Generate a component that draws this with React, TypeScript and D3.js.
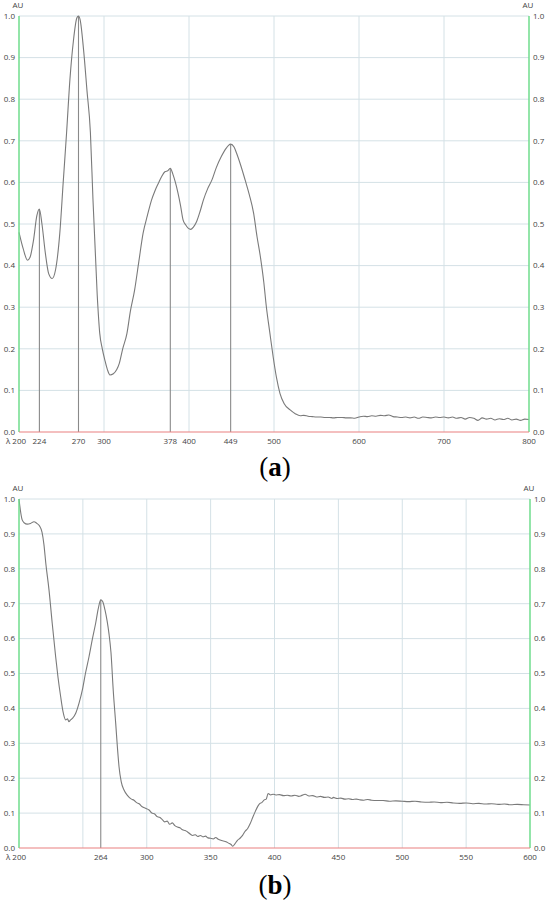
import React from "react";
import * as d3 from "d3";

// ---------- Data: panel (a) ----------
const waveA = [200, 205, 210, 213, 217, 221, 224, 227, 231, 235, 239, 243, 248, 252, 256, 260, 264, 268, 270, 272, 276, 280, 284, 287, 292, 295, 298, 301, 304, 307, 311, 315, 318, 322, 327, 331, 336, 341, 346, 351, 356, 360, 364, 368, 372, 375, 378, 381, 384, 387, 390, 393, 396, 399, 402, 405, 409, 413, 417, 422, 427, 432, 438, 443, 449, 453, 456, 461, 466, 471, 476, 480, 484, 488, 491, 495, 499, 503, 507, 512, 519, 525, 531, 535, 540, 545, 550, 555, 560, 565, 570, 575, 580, 585, 590, 595, 600, 605, 610, 615, 620, 625, 630, 635, 640, 645, 650, 655, 660, 665, 670, 675, 680, 685, 690, 695, 700, 705, 710, 715, 720, 725, 730, 735, 740, 745, 750, 755, 760, 765, 770, 775, 780, 785, 790, 795, 800];
const absA = [0.48, 0.44, 0.413, 0.42, 0.46, 0.52, 0.536, 0.5, 0.43, 0.38, 0.369, 0.39, 0.478, 0.6, 0.72, 0.85, 0.94, 0.995, 1.0, 0.99, 0.918, 0.82, 0.72, 0.56, 0.33, 0.237, 0.2, 0.173, 0.15, 0.137, 0.14, 0.15, 0.165, 0.2, 0.237, 0.29, 0.341, 0.41, 0.478, 0.52, 0.558, 0.58, 0.598, 0.615, 0.626, 0.628, 0.634, 0.62, 0.6, 0.575, 0.545, 0.51, 0.498, 0.49, 0.487, 0.492, 0.506, 0.53, 0.558, 0.585, 0.606, 0.635, 0.662, 0.68, 0.692, 0.685, 0.67, 0.64, 0.606, 0.57, 0.526, 0.47, 0.421, 0.36, 0.301, 0.24, 0.181, 0.13, 0.093, 0.068, 0.053, 0.044, 0.039, 0.04, 0.038, 0.037, 0.036, 0.036, 0.035, 0.035, 0.034, 0.035, 0.035, 0.034, 0.034, 0.033, 0.036, 0.038, 0.037, 0.039, 0.038, 0.04, 0.039, 0.041, 0.037, 0.036, 0.035, 0.036, 0.034, 0.036, 0.033, 0.036, 0.035, 0.034, 0.036, 0.035, 0.036, 0.034, 0.036, 0.033, 0.035, 0.031, 0.035, 0.033, 0.028, 0.034, 0.031, 0.033, 0.029, 0.032, 0.03, 0.033, 0.029, 0.031, 0.028, 0.031, 0.03];
const peaksA = [224, 270, 378, 449];
const gridXA = [300, 400, 500, 600, 700];
const tickXA = [224, 270, 300, 378, 400, 449, 500, 600, 700, 800];

// ---------- Data: panel (b) ----------
const waveB = [200, 201, 202.5, 204, 206.5, 209, 211.7, 214, 216, 218, 219.5, 221, 223.5, 226, 228.7, 230.5, 232.6, 234.5, 236.5, 238, 239, 240.4, 242, 244.4, 247, 249.6, 252, 254.8, 257.5, 260, 262, 264, 265.5, 267.3, 269, 270.4, 272, 273.8, 275.7, 277, 278.3, 280, 282.2, 285, 288, 290, 292, 294, 296.5, 299, 301.8, 304, 306, 308, 310, 312, 314, 316, 318, 320, 322, 324, 326, 328, 330, 332, 334, 336, 338, 340, 342, 344, 346, 348, 350, 352, 354, 356, 358, 360, 362, 364, 366, 367.3, 369, 371, 373, 375, 377, 379, 381, 383, 385, 387, 388.6, 390, 392, 393.5, 395, 397, 399, 401, 404, 407, 410, 413, 416, 419, 421, 424, 427, 430, 433, 436, 439, 442, 445, 446, 449, 452, 455, 458, 461, 464, 467, 470, 473, 476, 480, 485, 490, 495, 500, 505, 510, 515, 520, 525, 530, 535, 540, 545, 550, 555, 560, 565, 570, 575, 580, 585, 590, 595, 600];
const absB = [1.0, 0.97, 0.94, 0.932, 0.928, 0.93, 0.935, 0.93, 0.923, 0.905, 0.87, 0.815, 0.739, 0.644, 0.548, 0.49, 0.434, 0.39, 0.367, 0.37, 0.362, 0.367, 0.372, 0.386, 0.415, 0.453, 0.5, 0.548, 0.6, 0.644, 0.685, 0.711, 0.706, 0.682, 0.65, 0.615, 0.56, 0.45, 0.357, 0.29, 0.233, 0.19, 0.166, 0.15, 0.14, 0.137, 0.13, 0.127, 0.118, 0.114, 0.109, 0.1, 0.098, 0.09, 0.088, 0.082, 0.075, 0.077, 0.068, 0.072, 0.064, 0.06, 0.058, 0.052, 0.05, 0.046, 0.04, 0.036, 0.038, 0.033, 0.036, 0.032, 0.034, 0.029, 0.028, 0.026, 0.03, 0.025, 0.022, 0.02, 0.018, 0.014, 0.01, 0.005, 0.012, 0.022, 0.028, 0.036, 0.048, 0.056, 0.07, 0.088, 0.105, 0.12, 0.128, 0.13, 0.138, 0.14, 0.156, 0.152, 0.154, 0.152, 0.153, 0.15, 0.151, 0.149, 0.151, 0.148, 0.15, 0.154, 0.149, 0.15, 0.146, 0.148, 0.145, 0.146, 0.142, 0.145, 0.142, 0.143, 0.14, 0.141, 0.139, 0.14, 0.138, 0.137, 0.139, 0.137, 0.136, 0.136, 0.134, 0.135, 0.134, 0.133, 0.134, 0.132, 0.131, 0.132, 0.13, 0.131, 0.129, 0.128, 0.129, 0.127, 0.128, 0.126, 0.127, 0.125, 0.126, 0.124, 0.125, 0.124, 0.123];
const peaksB = [264];
const gridXB = [250, 300, 350, 400, 450, 500, 550];
const tickXB = [264, 300, 350, 400, 450, 500, 550, 600];

const tickY = [0, 0.1, 0.2, 0.3, 0.4, 0.5, 0.6, 0.7, 0.8, 0.9, 1.0];

const FONT = "'Open Sans', 'Noto Sans', sans-serif";
const GRID = "#d4e1e6";
const GREEN = "#6fdc8c";
const RED = "#e98080";
const CURVE = "#7a7a7a";
const PEAK = "#8a8a8a";
const TXT = "#444";

type PanelProps = {
  waves: number[];
  abs: number[];
  peaks: number[];
  gridX: number[];
  tickX: number[];
  xDomain: [number, number];
  left: number;
  right: number;
  top: number;
  bottom: number;
  label: string;
  labelY: number;
};

function Panel(p: PanelProps) {
  const x = d3.scaleLinear().domain(p.xDomain).range([p.left, p.right]);
  const y = d3.scaleLinear().domain([0, 1]).range([p.bottom, p.top]);
  const pts: [number, number][] = p.waves.map((w, i) => [w, p.abs[i]]);
  const line = d3
    .line<[number, number]>()
    .x((d) => x(d[0]))
    .y((d) => y(d[1]))
    .curve(d3.curveMonotoneX);
  const interp = (w: number) => {
    const i = p.waves.findIndex((v) => v >= w);
    if (i <= 0) return p.abs[Math.max(i, 0)];
    const w0 = p.waves[i - 1], w1 = p.waves[i];
    const t = (w - w0) / (w1 - w0);
    return p.abs[i - 1] + t * (p.abs[i] - p.abs[i - 1]);
  };
  const xLabelY = p.bottom + 12;
  return (
    <g>
      {/* horizontal grid */}
      {tickY.filter((t) => t > 0).map((t) => (
        <line key={"h" + t} x1={p.left} x2={p.right} y1={y(t)} y2={y(t)} stroke={GRID} strokeWidth={1} />
      ))}
      {/* vertical grid */}
      {p.gridX.map((g) => (
        <line key={"v" + g} x1={x(g)} x2={x(g)} y1={p.top} y2={p.bottom} stroke={GRID} strokeWidth={1} />
      ))}
      {/* peak markers */}
      {p.peaks.map((pk) => (
        <line key={"p" + pk} x1={x(pk)} x2={x(pk)} y1={p.bottom} y2={y(interp(pk))} stroke={PEAK} strokeWidth={1.1} />
      ))}
      {/* curve */}
      <path d={line(pts) || ""} fill="none" stroke={CURVE} strokeWidth={1.1} />
      {/* axes */}
      <line x1={p.left} x2={p.left} y1={p.top} y2={p.bottom} stroke={GREEN} strokeWidth={1.5} />
      <line x1={p.right} x2={p.right} y1={p.top} y2={p.bottom} stroke={GREEN} strokeWidth={1.5} />
      <line x1={p.left} x2={p.right} y1={p.bottom} y2={p.bottom} stroke={RED} strokeWidth={1.2} />
      {/* y tick labels */}
      {tickY.map((t) => (
        <g key={"yl" + t}>
          <text x={p.left - 4} y={y(t)} dy="0.35em" textAnchor="end" fontSize={8} fill={TXT} fontFamily={FONT}>
            {t.toFixed(1)}
          </text>
          <text x={p.right + 4} y={y(t)} dy="0.35em" textAnchor="start" fontSize={8} fill={TXT} fontFamily={FONT}>
            {t.toFixed(1)}
          </text>
        </g>
      ))}
      <text x={p.left - 1} y={p.top - 8} textAnchor="middle" fontSize={8} fill={TXT} fontFamily={FONT}>AU</text>
      <text x={p.right - 1} y={p.top - 8} textAnchor="middle" fontSize={8} fill={TXT} fontFamily={FONT}>AU</text>
      {/* x tick labels */}
      <text x={p.left - 3} y={xLabelY} textAnchor="middle" fontSize={8} fill={TXT} fontFamily={FONT}>λ 200</text>
      {p.tickX.map((t) => (
        <text key={"xl" + t} x={x(t)} y={xLabelY} textAnchor="middle" fontSize={8} fill={TXT} fontFamily={FONT}>
          {t}
        </text>
      ))}
      {/* panel label */}
      <text x={275} y={p.labelY} textAnchor="middle" fontSize={27} fill="#000" fontFamily="'Liberation Serif', 'DejaVu Serif', serif">
        (<tspan fontWeight="bold">{p.label}</tspan>)
      </text>
    </g>
  );
}

export default function App() {
  return (
    <svg width={550} height={904} style={{ position: "absolute", left: 0, top: 0, background: "#fff" }}>
      <rect x={0} y={0} width={550} height={904} fill="#fff" />
      <Panel
        waves={waveA}
        abs={absA}
        peaks={peaksA}
        gridX={gridXA}
        tickX={tickXA}
        xDomain={[200, 800]}
        left={19}
        right={529}
        top={16}
        bottom={432}
        label="a"
        labelY={476}
      />
      <Panel
        waves={waveB}
        abs={absB}
        peaks={peaksB}
        gridX={gridXB}
        tickX={tickXB}
        xDomain={[200, 600]}
        left={19}
        right={530}
        top={499}
        bottom={848}
        label="b"
        labelY={894}
      />
    </svg>
  );
}
